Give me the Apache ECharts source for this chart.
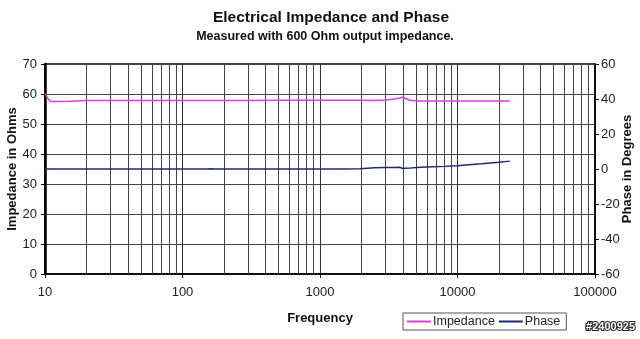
<!DOCTYPE html>
<html><head><meta charset="utf-8">
<script src="https://cdn.jsdelivr.net/npm/echarts@6/dist/echarts.min.js"></script>
<style>html,body{margin:0;padding:0;background:#fff}#c{width:640px;height:339px}</style>
</head><body><div id="c"></div>
<script>
const freqs = [10, 10.5, 11, 12, 15, 20, 30, 50, 100, 150, 160, 170, 200, 300, 500, 700, 1000, 1500, 1950, 2000, 2500, 3000, 3500, 3800, 4000, 4200, 4500, 5000, 6000, 8000, 10000, 12000, 15000, 18000, 20000, 24000];
const impedance = [60.2, 58.5, 57.5, 57.5, 57.6, 57.8, 57.8, 57.8, 57.8, 57.8, 57.8, 57.8, 57.8, 57.8, 57.9, 57.9, 57.9, 57.9, 57.9, 57.9, 57.8, 58.0, 58.3, 58.7, 58.9, 58.5, 57.9, 57.7, 57.7, 57.7, 57.7, 57.7, 57.7, 57.7, 57.7, 57.7];
const phase = [0, 0, 0, 0, 0, 0, 0, 0, 0, 0, 0.2, 0, 0, 0, 0, 0, 0, 0, 0.1, 0.6, 0.7, 0.8, 0.9, 1.0, 0.3, 0.4, 0.5, 0.8, 1.1, 1.5, 1.9, 2.4, 3.0, 3.6, 3.9, 4.5];
const minorFreqs = [];
[10, 100, 1000, 10000].forEach(d => { for (let k = 2; k <= 9; k++) minorFreqs.push(d * k); });
const leftTicks = {min: 0, max: 70, interval: 10};
const rightTicks = {min: -60, max: 60, interval: 20};

const chart = echarts.init(document.getElementById('c'));
const font = 'Liberation Sans, Arial, sans-serif';
chart.setOption({
  animation: false,
  backgroundColor: '#fff',
  textStyle: {fontFamily: font},
  title: [
    {text: 'Electrical Impedance and Phase', left: 326, top: 5, textAlign: 'center',
     textStyle: {fontSize: 15.5, fontWeight: 'bold', color: '#111', fontFamily: font}},
    {text: 'Measured with 600 Ohm output impedance.', left: 320, top: 25, textAlign: 'center',
     textStyle: {fontSize: 12.5, fontWeight: 'bold', color: '#111', fontFamily: font}}
  ],
  legend: {
    left: 403, top: 313, orient: 'horizontal',
    borderColor: '#555', borderWidth: 1, borderRadius: 0, padding: [2, 6, 2, 4],
    itemGap: 4, itemWidth: 24, itemHeight: 2,
    icon: 'rect',
    textStyle: {fontSize: 12.5, color: '#222', fontFamily: font, padding: [0, 0, 0, -3]},
    data: ['Impedance', 'Phase']
  },
  grid: {left: 45, right: 45, top: 64, bottom: 65, show: true, borderColor: '#000', borderWidth: 1.5,
         containLabel: false, outerBoundsMode: 'none'},
  xAxis: {
    type: 'log', logBase: 10, min: 10, max: 100000,
    name: 'Frequency', nameLocation: 'middle', nameGap: 38, nameMoveOverlap: false,
    nameTextStyle: {fontSize: 13, fontWeight: 'bold', color: '#111', fontFamily: font},
    axisLine: {lineStyle: {color: '#000', width: 1.5}},
    axisTick: {show: true, length: 4, lineStyle: {color: '#000'}},
    axisLabel: {fontSize: 13, color: '#222', margin: 12, fontFamily: font, formatter: v => String(Math.round(v))},
    splitLine: {show: true, lineStyle: {color: '#333', width: 1}}
  },
  yAxis: [
    {type: 'value', min: leftTicks.min, max: leftTicks.max, interval: leftTicks.interval, position: 'left',
     name: 'Impedance in Ohms', nameLocation: 'middle', nameGap: 26, nameRotate: 90, nameMoveOverlap: false,
     nameTextStyle: {fontSize: 13, fontWeight: 'bold', color: '#111', fontFamily: font},
     axisLine: {show: true, lineStyle: {color: '#000', width: 2.5}},
     axisTick: {show: true, length: 4, lineStyle: {color: '#000'}},
     axisLabel: {fontSize: 13, color: '#222', margin: 8, fontFamily: font},
     splitLine: {show: true, lineStyle: {color: '#444', width: 1}}},
    {type: 'value', min: rightTicks.min, max: rightTicks.max, interval: rightTicks.interval, position: 'right',
     name: 'Phase in Degrees', nameLocation: 'middle', nameGap: 26, nameRotate: 90, nameMoveOverlap: false,
     nameTextStyle: {fontSize: 13, fontWeight: 'bold', color: '#111', fontFamily: font},
     axisLine: {show: true, lineStyle: {color: '#000', width: 1.5}},
     axisTick: {show: true, length: 4, lineStyle: {color: '#000'}},
     axisLabel: {fontSize: 13, color: '#222', margin: 6, fontFamily: font},
     splitLine: {show: false}}
  ],
  series: [
    {name: 'grid-minor', type: 'line', data: [], z: 1, silent: true, legendHoverLink: false,
     markLine: {silent: true, symbol: 'none', label: {show: false},
       lineStyle: {color: '#444', width: 1, type: 'solid'},
       data: minorFreqs.map(f => ({xAxis: f}))}},
    {name: 'Impedance', type: 'line', yAxisIndex: 0, z: 5, showSymbol: false, symbol: 'none',
     lineStyle: {color: '#e23be0', width: 1.5}, itemStyle: {color: '#e23be0'},
     data: freqs.map((f, i) => [f, impedance[i]])},
    {name: 'Phase', type: 'line', yAxisIndex: 1, z: 5, showSymbol: false, symbol: 'none',
     lineStyle: {color: '#1c2a7a', width: 1.5}, itemStyle: {color: '#1c2a7a'},
     data: freqs.map((f, i) => [f, phase[i]])}
  ],
  graphic: [
    {type: 'text', right: 4, bottom: 6, style: {text: '#2400925', fontSize: 11, fontWeight: 'bold',
      fill: '#fff', stroke: '#222', lineWidth: 2, fontFamily: font}}
  ]
});
</script></body></html>
